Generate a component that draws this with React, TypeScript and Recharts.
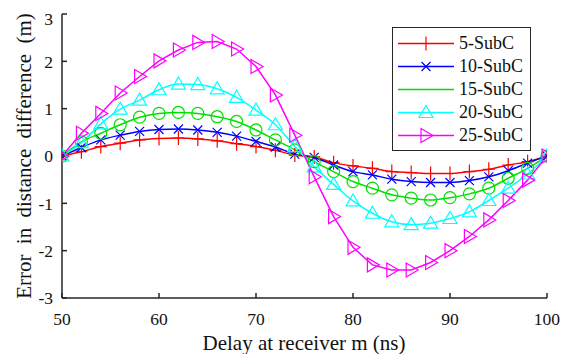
import React from 'react';
import { LineChart, Line, XAxis, YAxis } from 'recharts';

// delay (ns) sampled every 2 ns
const delays = [50, 52, 54, 56, 58, 60, 62, 64, 66, 68, 70, 72, 74, 76, 78, 80, 82, 84, 86, 88, 90, 92, 94, 96, 98, 100];

const subc5 = [0, 0.09, 0.2, 0.27, 0.34, 0.37, 0.38, 0.36, 0.32, 0.26, 0.2, 0.12, 0.02, -0.02, -0.14, -0.21, -0.26, -0.33, -0.35, -0.37, -0.37, -0.33, -0.28, -0.19, -0.12, 0];
const subc10 = [0, 0.18, 0.34, 0.44, 0.52, 0.56, 0.57, 0.55, 0.5, 0.42, 0.31, 0.19, 0.04, -0.03, -0.19, -0.33, -0.4, -0.49, -0.54, -0.56, -0.56, -0.52, -0.44, -0.31, -0.15, 0];
const subc15 = [0, 0.3, 0.48, 0.66, 0.82, 0.9, 0.92, 0.9, 0.83, 0.73, 0.55, 0.34, 0.13, -0.12, -0.33, -0.54, -0.68, -0.82, -0.89, -0.93, -0.88, -0.8, -0.68, -0.47, -0.26, 0];
const subc20 = [0, 0.28, 0.68, 0.99, 1.18, 1.4, 1.52, 1.51, 1.42, 1.24, 0.97, 0.66, 0.2, -0.23, -0.6, -0.95, -1.21, -1.39, -1.45, -1.42, -1.32, -1.18, -0.94, -0.68, -0.38, 0];
const subc25 = [0, 0.48, 0.9, 1.33, 1.68, 2.01, 2.24, 2.4, 2.42, 2.26, 1.89, 1.29, 0.44, -0.44, -1.28, -1.93, -2.3, -2.41, -2.41, -2.25, -2.0, -1.7, -1.35, -0.94, -0.51, 0];

const xTicks = [50, 60, 70, 80, 90, 100];
const yTicks = [-3, -2, -1, 0, 1, 2, 3];

const series = [
  { key: 'subc5', name: '5-SubC', values: subc5, color: '#FF0000', marker: 'plus', curve: 'monotone', legendMarker: true },
  { key: 'subc10', name: '10-SubC', values: subc10, color: '#0000FF', marker: 'cross', curve: 'monotone', legendMarker: true },
  { key: 'subc15', name: '15-SubC', values: subc15, color: '#00E000', marker: 'circle', curve: 'monotone', legendMarker: false },
  { key: 'subc20', name: '20-SubC', values: subc20, color: '#00FFFF', marker: 'triUp', curve: 'monotone', legendMarker: true },
  { key: 'subc25', name: '25-SubC', values: subc25, color: '#FF00FF', marker: 'triRight', curve: 'linear', legendMarker: true },
];

const data = delays.map((d, i) => {
  const row: Record<string, number> = { delay: d };
  series.forEach(s => { row[s.key] = s.values[i]; });
  return row;
});

const FONT = "'Liberation Serif', 'Times New Roman', Times, serif";
const AXIS = '#262626';

function Marker({ shape, cx, cy, color }: { shape: string; cx: number; cy: number; color: string }) {
  const common = { stroke: color, strokeWidth: 1.2, fill: 'none' };
  switch (shape) {
    case 'plus':
      return <path d={`M${cx - 6},${cy}H${cx + 6}M${cx},${cy - 7}V${cy + 7}`} {...common} />;
    case 'cross':
      return <path d={`M${cx - 4.5},${cy - 4.5}L${cx + 4.5},${cy + 4.5}M${cx - 4.5},${cy + 4.5}L${cx + 4.5},${cy - 4.5}`} {...common} />;
    case 'circle':
      return <circle cx={cx} cy={cy} r={6} {...common} />;
    case 'triUp':
      return <path d={`M${cx},${cy - 7}L${cx + 7},${cy + 5}L${cx - 7},${cy + 5}Z`} {...common} />;
    case 'triRight':
      return <path d={`M${cx + 7},${cy}L${cx - 5},${cy - 7}L${cx - 5},${cy + 7}Z`} {...common} />;
    default:
      return null;
  }
}

function LegendBox() {
  return (
    <div style={{ position: 'absolute', left: 384, top: 19, width: 137, border: `1px solid ${AXIS}`, background: '#fff', padding: '4px 0 3px 0', fontFamily: FONT }}>
      {series.map(s => (
        <div key={s.key} style={{ display: 'flex', alignItems: 'center', height: 23 }}>
          <svg width={66} height={23} style={{ display: 'block' }}>
            <line x1={5} x2={61} y1={11.5} y2={11.5} stroke={s.color} strokeWidth={1.5} />
            {s.legendMarker && <Marker shape={s.marker} cx={33} cy={11.5} color={s.color} />}
          </svg>
          <span style={{ fontSize: 18, color: '#111', lineHeight: '23px', fontFamily: FONT }}>{s.name}</span>
        </div>
      ))}
    </div>
  );
}

export default function App() {
  const tickStyle = { fontSize: 17.5, fill: '#111', style: { fontFamily: FONT } };
  return (
    <div style={{ position: 'relative', width: 552, height: 346, background: '#fff', fontFamily: FONT }}>
      <LineChart width={552} height={346} data={data} margin={{ top: 6, right: 13, bottom: 0, left: 0 }} style={{ fontFamily: FONT }}>
        <XAxis
          xAxisId="b"
          dataKey="delay"
          type="number"
          domain={[50, 100]}
          ticks={xTicks}
          allowDataOverflow
          height={56}
          stroke={AXIS}
          strokeWidth={1.5}
          tickSize={-5}
          tickMargin={20}
          tick={tickStyle}
          label={() => (
            <text x={296} y={342} textAnchor="middle" fontSize={21} fill="#111" style={{ fontFamily: FONT }}>
              Delay at receiver m (ns)
            </text>
          )}
        />
        <XAxis
          xAxisId="t"
          orientation="top"
          dataKey="delay"
          type="number"
          domain={[50, 100]}
          ticks={xTicks}
          allowDataOverflow
          height={0}
          stroke={AXIS}
          strokeWidth={1.5}
          tickSize={-5}
          tick={false}
        />
        <YAxis
          yAxisId="l"
          type="number"
          domain={[-3, 3]}
          ticks={yTicks}
          allowDataOverflow
          width={54}
          stroke={AXIS}
          strokeWidth={1.5}
          tickSize={-5}
          tickMargin={14}
          tick={tickStyle}
          label={() => (
            <text
              x={16}
              y={148}
              transform="rotate(-90 16 148)"
              textAnchor="middle"
              dominantBaseline="central"
              fontSize={21}
              fill="#111"
              style={{ fontFamily: FONT, wordSpacing: 5 }}
            >
              Error in distance difference (m)
            </text>
          )}
        />
        <YAxis
          yAxisId="r"
          orientation="right"
          type="number"
          domain={[-3, 3]}
          ticks={yTicks}
          allowDataOverflow
          width={0}
          stroke={AXIS}
          strokeWidth={1.5}
          tickSize={-5}
          tick={false}
        />
        {series.map(s => (
          <Line
            key={s.key}
            xAxisId="b"
            yAxisId="l"
            dataKey={s.key}
            name={s.name}
            type={s.curve as 'monotone' | 'linear'}
            stroke={s.color}
            strokeWidth={1.5}
            isAnimationActive={false}
            dot={(p: any) => <Marker key={`${s.key}-${p.index}`} shape={s.marker} cx={p.cx} cy={p.cy} color={s.color} />}
            activeDot={false}
          />
        ))}
      </LineChart>
      <LegendBox />
    </div>
  );
}
